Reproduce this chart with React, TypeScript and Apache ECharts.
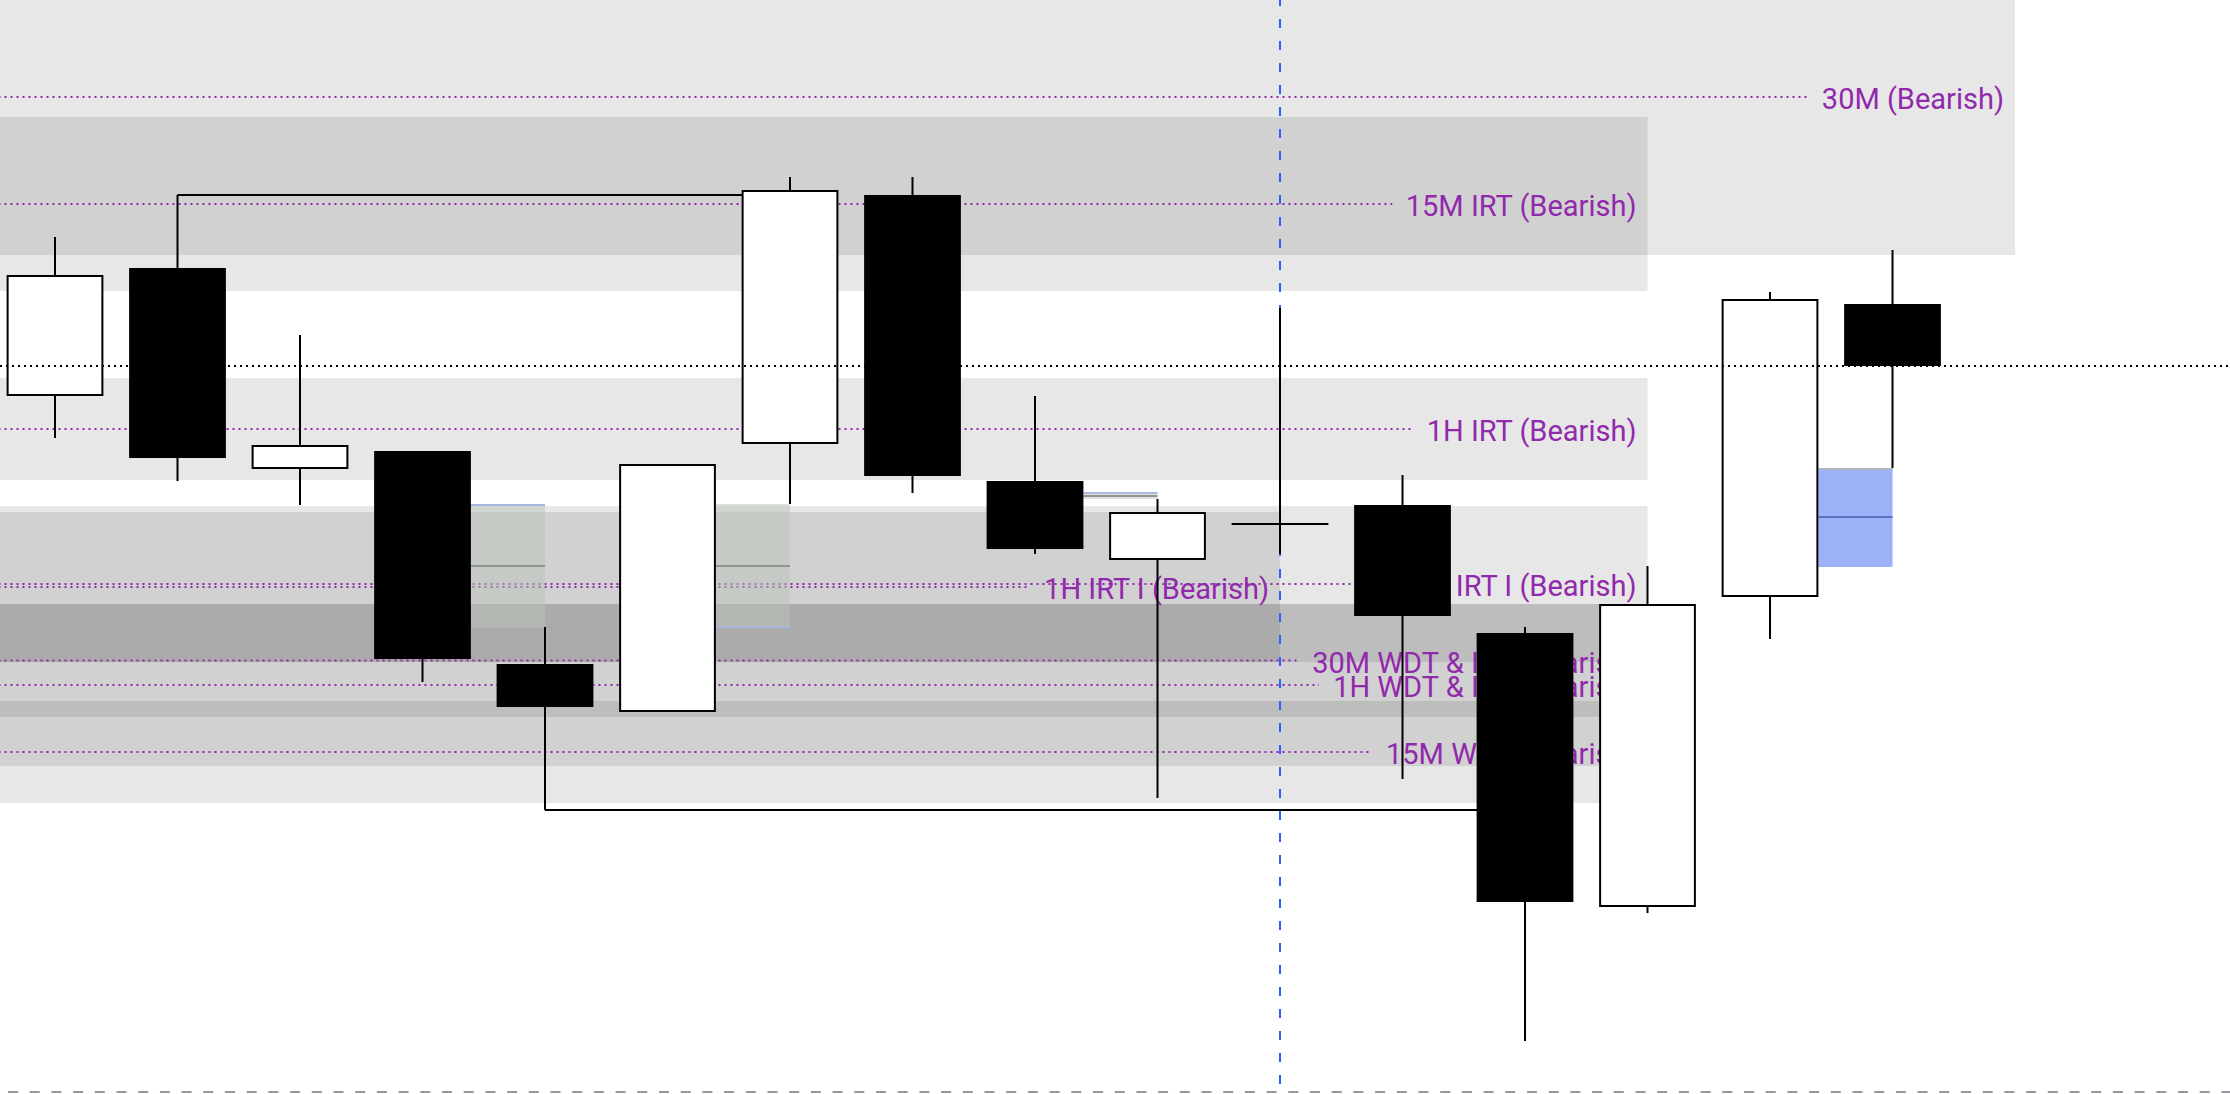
import React, { useEffect, useRef } from "react";
import * as echarts from "echarts";

// ---------- DATA ----------
// bar positions (index on the time axis)
const barIndex = [0, 1, 2, 3, 4, 5, 6, 7, 8, 9, 10, 11, 12, 13, 14, 15];
const opens = [698, 826, 625, 643, 430, 382, 650, 899, 613, 534, 570, 589, 461, 187, 497, 790];
const closes = [819, 636, 649, 435, 387, 630, 904, 618, 545, 582, 570, 478, 192, 490, 795, 728];
const highs = [857, 899, 759, 643, 467, 630, 917, 917, 698, 595, 786, 619, 467, 528, 802, 844];
const lows = [656, 613, 589, 412, 284, 382, 590, 601, 540, 296, 540, 315, 53, 181, 455, 626];

// supply zones (bearish) with their labels
const zoneLabels = [
  "30M (Bearish)",
  "15M IRT (Bearish)",
  "1H IRT (Bearish)",
  "1H IRT I (Bearish)",
  "1H IRT I (Bearish)",
  "30M WDT & IRT (Bearish)",
  "1H WDT & IRT (Bearish)",
  "15M WDT (Bearish)",
];
const zoneStarts = [-1, -1, -1, -1, -1, -1, -1, -1];
const zoneEnds = [16, 13, 13, 10, 13, 13, 13, 13];
const zoneTops = [1155, 977, 716, 582, 588, 490, 490, 393];
const zoneBottoms = [839, 803, 614, 432, 432, 377, 328, 291];

// swept liquidity lines
const sweepFrom = [1, 4];
const sweepTo = [6, 12];
const sweepLevel = [899, 284];

// small range boxes
const boxFrom = [3, 5, 8, 14];
const boxTo = [4, 6, 9, 15];
const boxTop = [590, 590, 602, 626];
const boxBottom = [466, 466, 595, 527];
const boxMid = [528, 528, 598, 577];
const boxKind = ["gray", "gray", "gray", "blue"];
const boxEdge = ["top", "bottom", "top", "top"];

// vertical marker bar
const markerIndex = [10];

// ---------- LAYOUT / STYLE ----------
const W = 2230;
const H = 1094;
const X_MIN = -0.449;
const X_MAX = 17.755;
const Y_MIN = 0;
const Y_MAX = 1094;
const BODY_RATIO = 0.79;
const PURPLE = "#9129ac";
const FONT_SIZE = 29;
const FONT_FAMILY = "Roboto";

let measureCtx: CanvasRenderingContext2D | null = null;
function textWidth(t: string): number {
  if (!measureCtx) {
    const c = document.createElement("canvas");
    measureCtx = c.getContext("2d");
  }
  if (!measureCtx) return t.length * 13;
  measureCtx.font = `${FONT_SIZE}px ${FONT_FAMILY}`;
  return measureCtx.measureText(t).width;
}

function buildOption(): any {
  const zoneData = zoneTops.map((t, i) => [zoneStarts[i], zoneEnds[i], t, zoneBottoms[i]]);
  const labelData = zoneTops.map((t, i) => [zoneStarts[i], zoneEnds[i], (t + zoneBottoms[i]) / 2]);
  const candleData = barIndex.map((x, i) => [x, opens[i], closes[i], lows[i], highs[i]]);
  const sweepData = sweepLevel.map((v, i) => [sweepFrom[i], sweepTo[i], v]);
  const boxData = boxTop.map((t, i) => [boxFrom[i], boxTo[i], t, boxBottom[i], boxMid[i]]);
  const lastClose = closes[closes.length - 1];

  return {
    animation: false,
    backgroundColor: "#ffffff",
    grid: { left: 0, right: 0, top: 0, bottom: 0 },
    xAxis: { type: "value", min: X_MIN, max: X_MAX, show: false, splitLine: { show: false } },
    yAxis: { type: "value", min: Y_MIN, max: Y_MAX, show: false, splitLine: { show: false } },
    tooltip: { show: false },
    graphic: [
      {
        type: "line",
        z: 20,
        silent: true,
        shape: { x1: 8, y1: 1092, x2: W, y2: 1092 },
        style: { stroke: "#9598a1", lineWidth: 2, lineDash: [10, 11.7] },
      },
    ],
    series: [
      // zones
      {
        type: "custom",
        z: 1,
        silent: true,
        clip: true,
        data: zoneData,
        encode: { x: [0, 1], y: [2, 3] },
        renderItem: (params: any, api: any) => {
          const a = api.coord([api.value(0), api.value(2)]);
          const b = api.coord([api.value(1), api.value(3)]);
          return {
            type: "rect",
            shape: { x: a[0], y: a[1], width: b[0] - a[0], height: b[1] - a[1] },
            style: { fill: "rgba(0,0,0,0.095)" },
          };
        },
      },
      // zone midlines + labels
      {
        type: "custom",
        z: 2,
        silent: true,
        clip: true,
        data: labelData,
        encode: { x: [0, 1], y: 2 },
        renderItem: (params: any, api: any) => {
          const i = params.dataIndex;
          const label = zoneLabels[i];
          const s = api.coord([api.value(0), api.value(2)]);
          const e = api.coord([api.value(1), api.value(2)]);
          const right = e[0] - 11;
          const lineEnd = right - textWidth(label) - 13;
          return {
            type: "group",
            children: [
              {
                type: "line",
                shape: { x1: s[0], y1: s[1], x2: lineEnd, y2: s[1] },
                style: { stroke: PURPLE, lineWidth: 2, lineDash: [2, 4] },
              },
              {
                type: "text",
                x: right,
                y: s[1] + 2,
                style: {
                  text: label,
                  fill: PURPLE,
                  fontSize: FONT_SIZE,
                  fontFamily: FONT_FAMILY,
                  align: "right",
                  verticalAlign: "middle",
                },
              },
            ],
          };
        },
      },
      // vertical dashed marker
      {
        type: "custom",
        z: 3,
        silent: true,
        clip: true,
        data: markerIndex.map((m) => [m, Y_MAX]),
        renderItem: (params: any, api: any) => {
          const t = api.coord([api.value(0), Y_MAX]);
          const b = api.coord([api.value(0), Y_MIN]);
          return {
            type: "line",
            shape: { x1: t[0], y1: t[1], x2: b[0], y2: b[1] - 8 },
            style: { stroke: "#2962ff", lineWidth: 2, lineDash: [9, 13], lineDashOffset: 3.4 },
          };
        },
      },
      // boxes
      {
        type: "custom",
        z: 4,
        silent: true,
        clip: true,
        data: boxData,
        encode: { x: [0, 1], y: [2, 3] },
        renderItem: (params: any, api: any) => {
          const i = params.dataIndex;
          const half = (api.size([1, 0])[0] * BODY_RATIO) / 2;
          const a = api.coord([api.value(0), api.value(2)]);
          const b = api.coord([api.value(1), api.value(3)]);
          const m = api.coord([api.value(1), api.value(4)]);
          const x1 = a[0] + half;
          const x2 = b[0];
          const blue = boxKind[i] === "blue";
          const edgeY = boxEdge[i] === "top" ? a[1] + 1 : b[1] - 1;
          return {
            type: "group",
            children: [
              {
                type: "rect",
                shape: { x: x1, y: a[1], width: x2 - x1, height: b[1] - a[1] },
                style: { fill: blue ? "#9bb1f8" : "rgba(185,195,185,0.5)" },
              },
              {
                type: "line",
                shape: { x1: x1, y1: m[1], x2: x2, y2: m[1] },
                style: { stroke: blue ? "#5b72c4" : "#8f968f", lineWidth: 2 },
              },
              {
                type: "line",
                shape: { x1: x1, y1: edgeY, x2: x2, y2: edgeY },
                style: { stroke: blue ? "#b3b5bd" : "#a7b7dd", lineWidth: 2 },
              },
            ],
          };
        },
      },
      // swept liquidity lines
      {
        type: "custom",
        z: 5,
        silent: true,
        clip: true,
        data: sweepData,
        encode: { x: [0, 1], y: 2 },
        renderItem: (params: any, api: any) => {
          const a = api.coord([api.value(0), api.value(2)]);
          const b = api.coord([api.value(1), api.value(2)]);
          return {
            type: "line",
            shape: { x1: a[0], y1: a[1], x2: b[0], y2: b[1] },
            style: { stroke: "#000", lineWidth: 2 },
          };
        },
      },
      // candles
      {
        type: "custom",
        z: 6,
        silent: true,
        clip: true,
        data: candleData,
        encode: { x: 0, y: [1, 2, 3, 4] },
        renderItem: (params: any, api: any) => {
          const idx = api.value(0);
          const o = api.value(1);
          const c = api.value(2);
          const l = api.value(3);
          const h = api.value(4);
          const x = api.coord([idx, o])[0];
          const yo = api.coord([idx, o])[1];
          const yc = api.coord([idx, c])[1];
          const yl = api.coord([idx, l])[1];
          const yh = api.coord([idx, h])[1];
          const w = api.size([1, 0])[0] * BODY_RATIO;
          const children: any[] = [
            {
              type: "line",
              shape: { x1: x, y1: yh, x2: x, y2: yl },
              style: { stroke: "#000", lineWidth: 2 },
            },
          ];
          if (o === c) {
            children.push({
              type: "line",
              shape: { x1: x - w / 2, y1: yo, x2: x + w / 2, y2: yo },
              style: { stroke: "#000", lineWidth: 2 },
            });
          } else if (c > o) {
            children.push({
              type: "rect",
              shape: { x: x - w / 2 + 1, y: yc + 1, width: w - 2, height: yo - yc - 2 },
              style: { fill: "#fff", stroke: "#000", lineWidth: 2 },
            });
          } else {
            children.push({
              type: "rect",
              shape: { x: x - w / 2, y: yo, width: w, height: yc - yo },
              style: { fill: "#000" },
            });
          }
          return { type: "group", children };
        },
      },
      // last price line
      {
        type: "custom",
        z: 7,
        silent: true,
        clip: true,
        data: [[X_MIN, lastClose]],
        renderItem: (params: any, api: any) => {
          const a = api.coord([X_MIN, api.value(1)]);
          const b = api.coord([X_MAX, api.value(1)]);
          return {
            type: "line",
            shape: { x1: a[0], y1: a[1], x2: b[0], y2: b[1] },
            style: { stroke: "#000", lineWidth: 2, lineDash: [2, 4] },
          };
        },
      },
    ],
  };
}

export default function App() {
  const ref = useRef<HTMLDivElement>(null);
  useEffect(() => {
    document.body.style.margin = "0";
    document.body.style.overflow = "hidden";
    if (!ref.current) return;
    const chart = echarts.init(ref.current, null, { renderer: "svg" });
    chart.setOption(buildOption());
    return () => chart.dispose();
  }, []);
  return (
    <div style={{ position: "fixed", left: 0, top: 0, width: W, height: H, background: "#fff" }}>
      <div ref={ref} style={{ width: W, height: H }} />
    </div>
  );
}
